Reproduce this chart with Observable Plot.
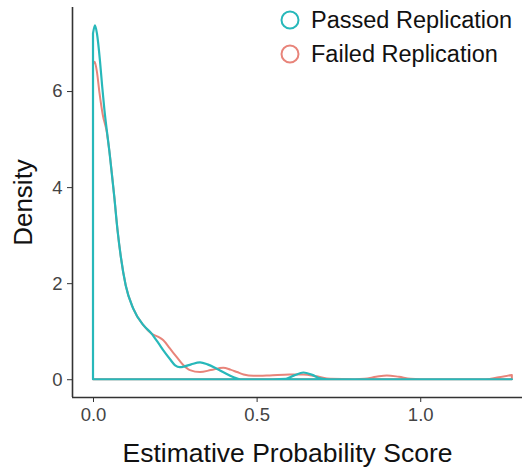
<!DOCTYPE html>
<html>
<head>
<meta charset="utf-8">
<script src="https://cdn.jsdelivr.net/npm/d3@7"></script>
<script src="https://cdn.jsdelivr.net/npm/@observablehq/plot@0.6"></script>
<style>
  html, body { margin: 0; padding: 0; background: #fff; }
  #wrap { position: relative; width: 522px; height: 469px; font-family: "Liberation Sans", Arial, Helvetica, sans-serif; }
  #legend { position: absolute; left: 279px; top: 3px; }
  .item { display: flex; align-items: center; height: 34px; font-size: 23.5px; color: #111; white-space: nowrap; }
  .item svg { margin-right: 10px; }
</style>
</head>
<body>
<div id="wrap"><div id="legend"></div></div>
<script>
const seriesNames = ["Passed Replication", "Failed Replication"];
const seriesColors = ["#27b8ba", "#e8847a"];

// Density curve of "Passed Replication" (estimative probability score, density)
const xPassed = [0, 0.006, 0.012, 0.021, 0.028, 0.035, 0.042, 0.05, 0.065, 0.075, 0.085, 0.1, 0.123, 0.154, 0.179, 0.2, 0.215, 0.235, 0.251, 0.265, 0.276, 0.3, 0.327, 0.35, 0.378, 0.4, 0.43, 0.45, 0.5, 0.55, 0.59, 0.615, 0.643, 0.67, 0.694, 0.72, 0.8, 1.0, 1.2, 1.28];
const yPassed = [7.2, 7.37, 7.2, 6.65, 6.1, 5.6, 5.19, 4.75, 3.8, 3.1, 2.55, 1.95, 1.47, 1.125, 0.95, 0.75, 0.6, 0.42, 0.29, 0.25, 0.26, 0.31, 0.35, 0.31, 0.22, 0.14, 0.04, 0.0, 0, 0, 0.01, 0.08, 0.14, 0.09, 0.02, 0, 0, 0, 0, 0];

// Density curve of "Failed Replication"
const xFailed = [0, 0.005, 0.012, 0.02, 0.03, 0.042, 0.05, 0.065, 0.075, 0.085, 0.1, 0.123, 0.154, 0.179, 0.2, 0.215, 0.235, 0.256, 0.275, 0.296, 0.327, 0.36, 0.398, 0.42, 0.44, 0.46, 0.49, 0.54, 0.6, 0.643, 0.684, 0.725, 0.8, 0.83, 0.865, 0.898, 0.935, 0.97, 1.0, 1.2, 1.24, 1.28];
const yFailed = [6.55, 6.61, 6.4, 5.95, 5.5, 5.15, 4.75, 3.8, 3.1, 2.55, 1.95, 1.47, 1.125, 0.95, 0.88, 0.81, 0.64, 0.46, 0.3, 0.19, 0.15, 0.19, 0.24, 0.2, 0.15, 0.1, 0.07, 0.08, 0.1, 0.1, 0.06, 0.01, 0, 0.01, 0.05, 0.08, 0.05, 0.01, 0, 0, 0.04, 0.09];

const xTicks = [0, 0.5, 1.0];
const yTicks = [0, 2, 4, 6];
const xDomain = [-0.0642, 1.311];
const yDomain = [-0.37, 7.75];

const passed = xPassed.map((x, i) => ({x, y: yPassed[i], s: seriesNames[0]}));
const failed = xFailed.map((x, i) => ({x, y: yFailed[i], s: seriesNames[1]}));

const chart = Plot.plot({
  width: 522,
  height: 469,
  marginLeft: 72,
  marginRight: 0,
  marginTop: 7,
  marginBottom: 72,
  style: {fontFamily: "Liberation Sans, Arial, Helvetica, sans-serif", fontSize: "18px", background: "#fff", overflow: "visible"},
  x: {domain: xDomain},
  y: {domain: yDomain},
  marks: [
    Plot.ruleX([xDomain[0]], {stroke: "#333", strokeWidth: 1.6}),
    Plot.ruleY([yDomain[0]], {stroke: "#333", strokeWidth: 1.6}),
    Plot.axisX({ticks: xTicks, tickFormat: d3.format(".1f"), tickSize: 5, tickPadding: 5, label: null, stroke: "#333", fill: "#444", fontSize: 18.5}),
    Plot.axisY({ticks: yTicks, tickSize: 5, tickPadding: 5, label: null, stroke: "#333", fill: "#444", fontSize: 18.5}),
    Plot.areaY(failed, {x: "x", y: "y", fill: "none", stroke: seriesColors[1], strokeWidth: 2, curve: "monotone-x"}),
    Plot.areaY(passed, {x: "x", y: "y", fill: "none", stroke: seriesColors[0], strokeWidth: 2.2, curve: "monotone-x"}),
    Plot.text(["Density"], {frameAnchor: "left", rotate: -90, dx: -49, textAnchor: "middle", lineAnchor: "middle", fontSize: 26, fill: "#111"}),
    Plot.text(["Estimative Probability Score"], {frameAnchor: "bottom", dy: 56, dx: -10, textAnchor: "middle", lineAnchor: "middle", fontSize: 26.5, fill: "#111"})
  ]
});
document.getElementById("wrap").prepend(chart);

const legend = d3.select("#legend");
seriesNames.forEach((name, i) => {
  const item = legend.append("div").attr("class", "item");
  const svg = item.append("svg").attr("width", 22).attr("height", 22);
  svg.append("circle").attr("cx", 11).attr("cy", 11).attr("r", 8.5)
    .attr("fill", "none").attr("stroke", seriesColors[i]).attr("stroke-width", 2);
  item.append("span").text(name);
});
</script>
</body>
</html>
